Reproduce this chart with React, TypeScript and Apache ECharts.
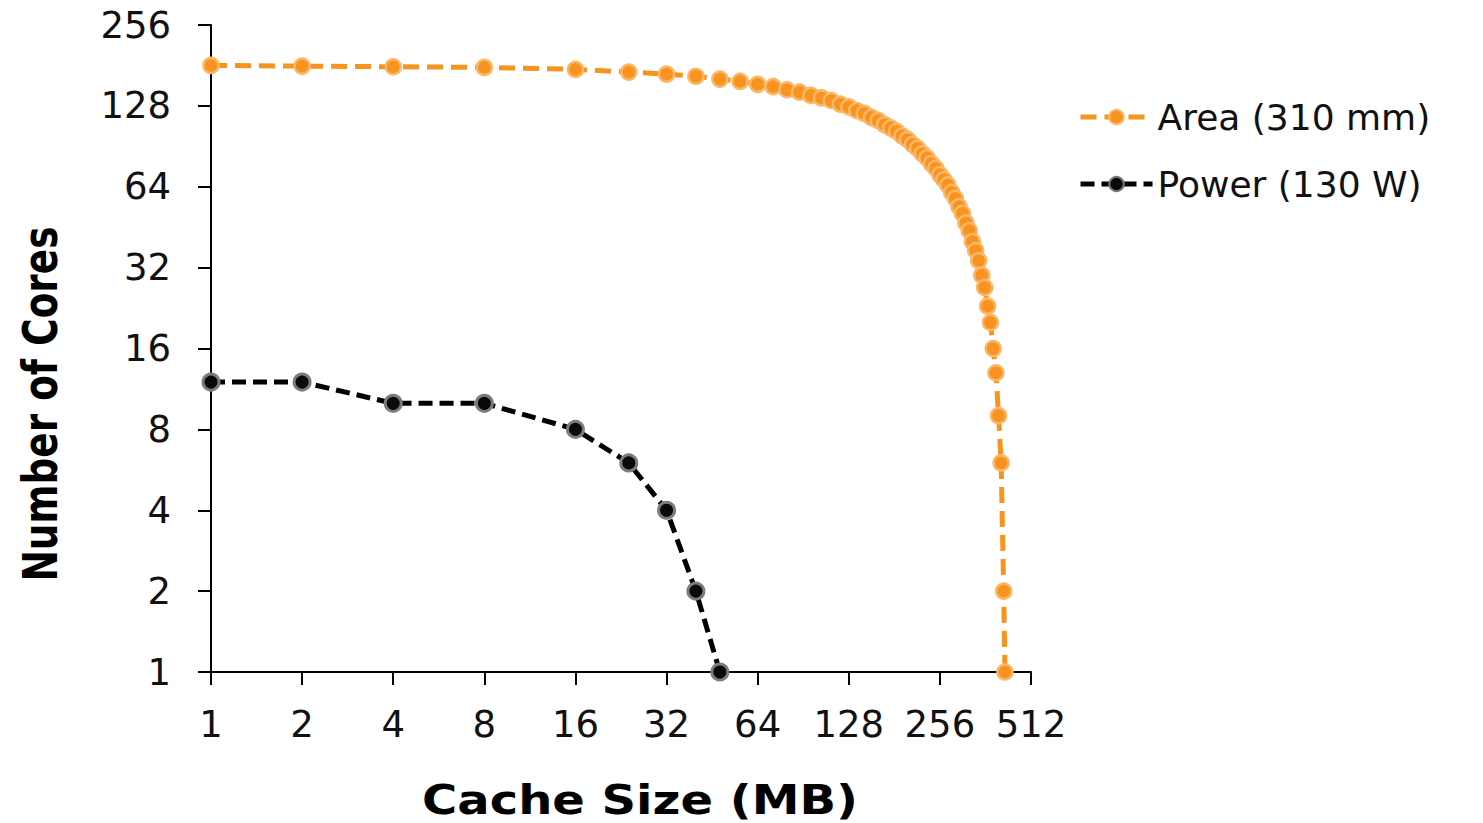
import React, { useEffect, useRef } from "react";
import * as echarts from "echarts";

const areaCache = [
  1, 2, 4, 8, 16, 24, 32, 40, 48, 56, 64, 72, 80, 88, 96, 104, 112, 120, 128, 136,
  144, 152, 160, 168, 176, 184, 192, 200, 208, 216, 224, 232, 240, 248, 256, 264,
  272, 280, 288, 296, 304, 312, 320, 328, 336, 344, 352, 360, 368, 376, 384, 392,
  400, 408, 416, 420,
];
const areaCores = [
  181, 180, 179, 178, 175, 171, 168, 165, 161, 158, 154, 151, 147, 144, 140, 137,
  134, 130, 127, 123, 120, 116, 113, 109, 106, 103, 99, 96, 92, 89, 85, 82, 78, 75,
  71, 68, 65, 61, 58, 54, 51, 47, 44, 40, 37, 34, 30, 27, 23, 20, 16, 13, 9, 6, 2, 1,
];
const powerCache = [1, 2, 4, 8, 16, 24, 32, 40, 48];
const powerCores = [12, 12, 10, 10, 8, 6, 4, 2, 1];

const seriesNames = ["Area (310 mm)", "Power (130 W)"];
const xTitle = "Cache Size (MB)";
const yTitle = "Number of Cores";

const LABEL_FONT = "'DejaVu Sans', 'Liberation Sans', sans-serif";

export default function App() {
  const ref = useRef<HTMLDivElement>(null);
  useEffect(() => {
    if (!ref.current) return;
    const chart = echarts.init(ref.current, null, { renderer: "svg" });
    const areaData = areaCache.map((c, i) => [c, areaCores[i]]);
    const powerData = powerCache.map((c, i) => [c, powerCores[i]]);
    chart.setOption({
      animation: false,
      backgroundColor: "#ffffff",
      grid: { left: 211, right: 452, top: 25, bottom: 151, containLabel: false },
      legend: {
        orient: "vertical",
        left: 1073,
        top: 92,
        itemWidth: 72,
        itemHeight: 18,
        itemGap: 27,
        data: seriesNames,
        lineStyle: { width: 5 },
        textStyle: { fontFamily: LABEL_FONT, fontSize: 36, color: "#111", lineHeight: 40 },
      },
      xAxis: {
        type: "log",
        logBase: 2,
        min: 1,
        max: 512,
        interval: 1,
        axisLine: { show: true, lineStyle: { color: "#000", width: 2 } },
        axisTick: { show: true, length: 13, lineStyle: { color: "#000", width: 2 } },
        splitLine: { show: false },
        minorTick: { show: false },
        axisLabel: {
          margin: 34,
          fontFamily: LABEL_FONT,
          fontSize: 37,
          color: "#111",
          formatter: (v: number) => String(Math.round(v)),
        },
      },
      yAxis: {
        type: "log",
        logBase: 2,
        min: 1,
        max: 256,
        interval: 1,
        axisLine: { show: true, lineStyle: { color: "#000", width: 2 } },
        axisTick: { show: true, length: 13, lineStyle: { color: "#000", width: 2 } },
        splitLine: { show: false },
        axisLabel: {
          margin: 40,
          fontFamily: LABEL_FONT,
          fontSize: 37,
          color: "#111",
          formatter: (v: number) => String(Math.round(v)),
        },
      },
      graphic: [
        {
          type: "text",
          x: 640,
          y: 800,
          scaleY: 0.86,
          style: {
            text: xTitle,
            font: "bold 48px 'DejaVu Sans', 'Liberation Sans', sans-serif",
            fill: "#000",
            textAlign: "center",
            textVerticalAlign: "middle",
          },
        },
        {
          type: "text",
          x: 40,
          y: 404,
          rotation: Math.PI / 2,
          scaleX: 0.78,
          style: {
            text: yTitle,
            font: "bold 48px 'DejaVu Sans', 'Liberation Sans', sans-serif",
            fill: "#000",
            textAlign: "center",
            textVerticalAlign: "middle",
          },
        },
      ],
      series: [
        {
          name: seriesNames[0],
          type: "line",
          data: areaData,
          symbol: "circle",
          symbolSize: 15,
          lineStyle: { color: "#F7931E", width: 5, type: [16, 8] },
          itemStyle: { color: "#F7931E", borderColor: "#FBB766", borderWidth: 2.5 },
          z: 2,
        },
        {
          name: seriesNames[1],
          type: "line",
          data: powerData,
          symbol: "circle",
          symbolSize: 16,
          lineStyle: { color: "#000", width: 5, type: [14, 7] },
          itemStyle: { color: "#0a0a0a", borderColor: "#7c7c7c", borderWidth: 3 },
          z: 3,
        },
      ],
    });
    return () => chart.dispose();
  }, []);
  return (
    <div
      ref={ref}
      style={{ position: "fixed", left: 0, top: 0, width: 1483, height: 823 }}
    />
  );
}
